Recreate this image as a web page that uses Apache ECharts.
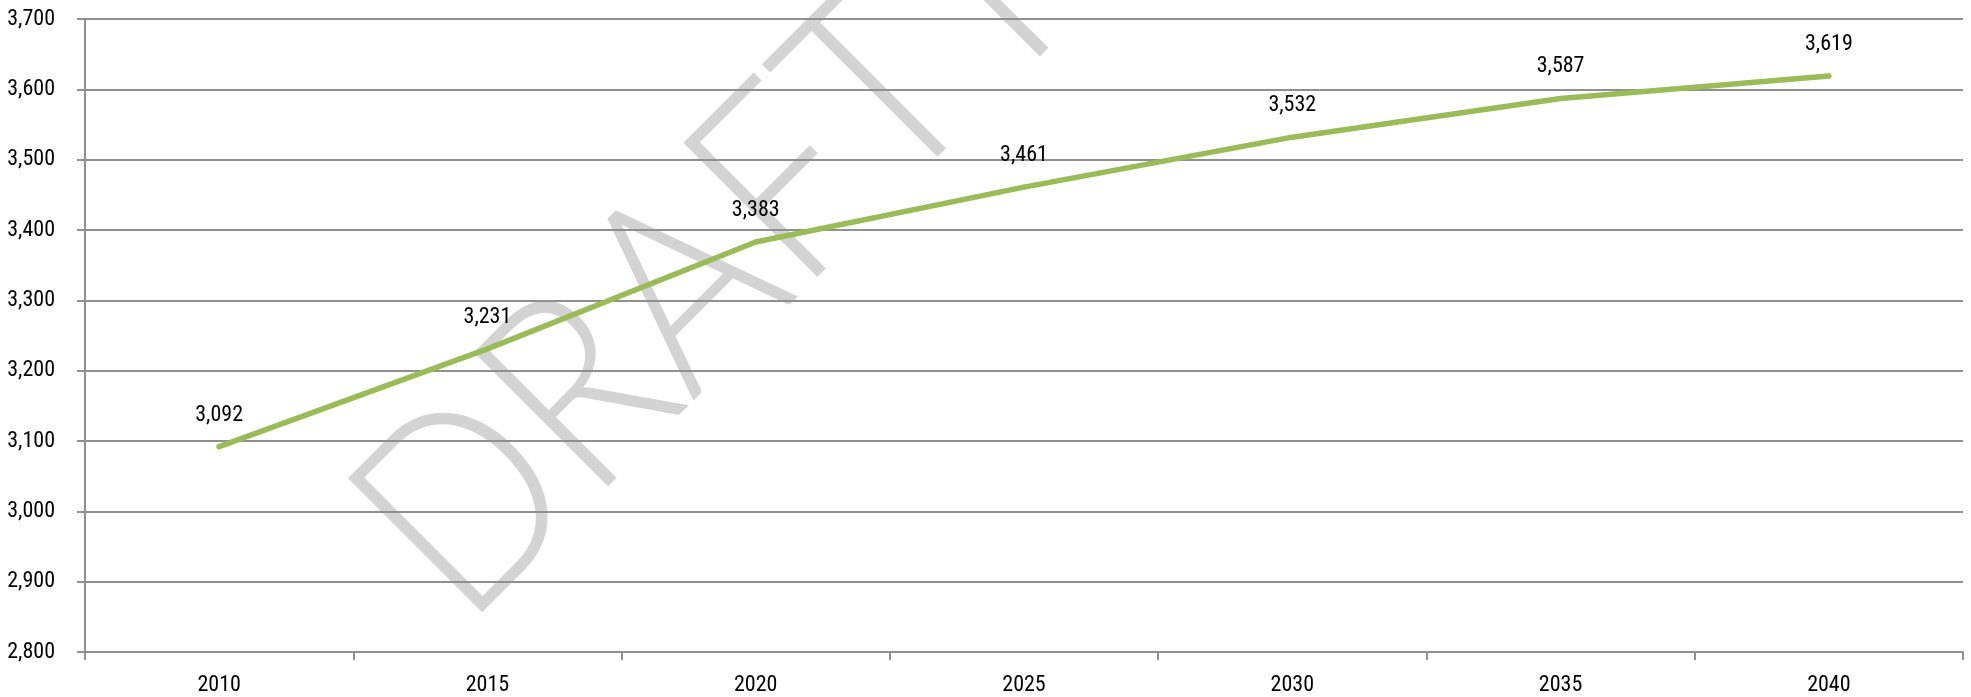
<!DOCTYPE html>
<html>
<head>
<meta charset="utf-8">
<title>Projection 2010–2040</title>
<script src="https://cdn.jsdelivr.net/npm/echarts@6/dist/echarts.min.js"></script>
<style>
  html, body { margin: 0; padding: 0; background: #ffffff; }
  #chart { width: 1971px; height: 697px; }
</style>
</head>
<body>
<div id="chart"></div>
<script>
// Five-year steps on the category axis
const years = ['2010', '2015', '2020', '2025', '2030', '2035', '2040'];
// Projected totals for each year
const totals = [3092, 3231, 3383, 3461, 3532, 3587, 3619];
// Value axis range and step
const yMin = 2800;
const yMax = 3700;
const yStep = 100;

const labelFont = '"Liberation Sans Narrow", "Arial Narrow", "Roboto Condensed", "Noto Sans Condensed", "DejaVu Sans Condensed", sans-serif';
const markFont = '300 268px "Lato", "Open Sans", sans-serif';
const fmt = v => v.toLocaleString('en-US');

const chart = echarts.init(document.getElementById('chart'), null, { renderer: 'canvas' });

// Diagonal watermark, drawn beneath the grid
const tilt = 45 * Math.PI / 180;
const watermark = [
  { text: 'DRAFT', x: 666, y: 306 },
  { text: 'I', x: 983, y: -9 }
].map(w => ({
  type: 'text',
  z: -10,
  silent: true,
  x: w.x,
  y: w.y,
  rotation: tilt,
  scaleX: 0.875,
  style: {
    text: w.text,
    font: markFont,
    fill: '#d3d3d3',
    textAlign: 'center',
    textVerticalAlign: 'middle'
  }
}));

chart.setOption({
  animation: false,
  backgroundColor: '#ffffff',
  grid: { left: 85, right: 8, top: 19, bottom: 45, containLabel: false },
  graphic: watermark,
  xAxis: {
    type: 'category',
    data: years,
    boundaryGap: true,
    axisLine: { show: true, lineStyle: { color: '#8f8f8f', width: 2 } },
    axisTick: { show: true, length: 8, lineStyle: { color: '#8f8f8f', width: 2 } },
    axisLabel: { color: '#000000', fontFamily: labelFont, fontSize: 22, margin: 22 },
    splitLine: { show: false }
  },
  yAxis: {
    type: 'value',
    min: yMin,
    max: yMax,
    interval: yStep,
    axisLine: { show: true, lineStyle: { color: '#8f8f8f', width: 2 } },
    axisTick: { show: true, length: 8, lineStyle: { color: '#8f8f8f', width: 2 } },
    axisLabel: { color: '#000000', fontFamily: labelFont, fontSize: 22, margin: 30, formatter: fmt },
    splitLine: { show: true, lineStyle: { color: '#8f8f8f', width: 2 } }
  },
  series: [{
    type: 'line',
    data: totals,
    z: 3,
    symbol: 'circle',
    symbolSize: 5,
    showSymbol: true,
    itemStyle: { color: '#9bbb59', borderWidth: 0 },
    lineStyle: { color: '#9bbb59', width: 5.5, cap: 'round', join: 'round' },
    label: {
      show: true,
      position: 'top',
      distance: 18,
      color: '#000000',
      fontFamily: labelFont,
      fontSize: 22,
      formatter: p => fmt(p.value)
    }
  }]
});
</script>
</body>
</html>
